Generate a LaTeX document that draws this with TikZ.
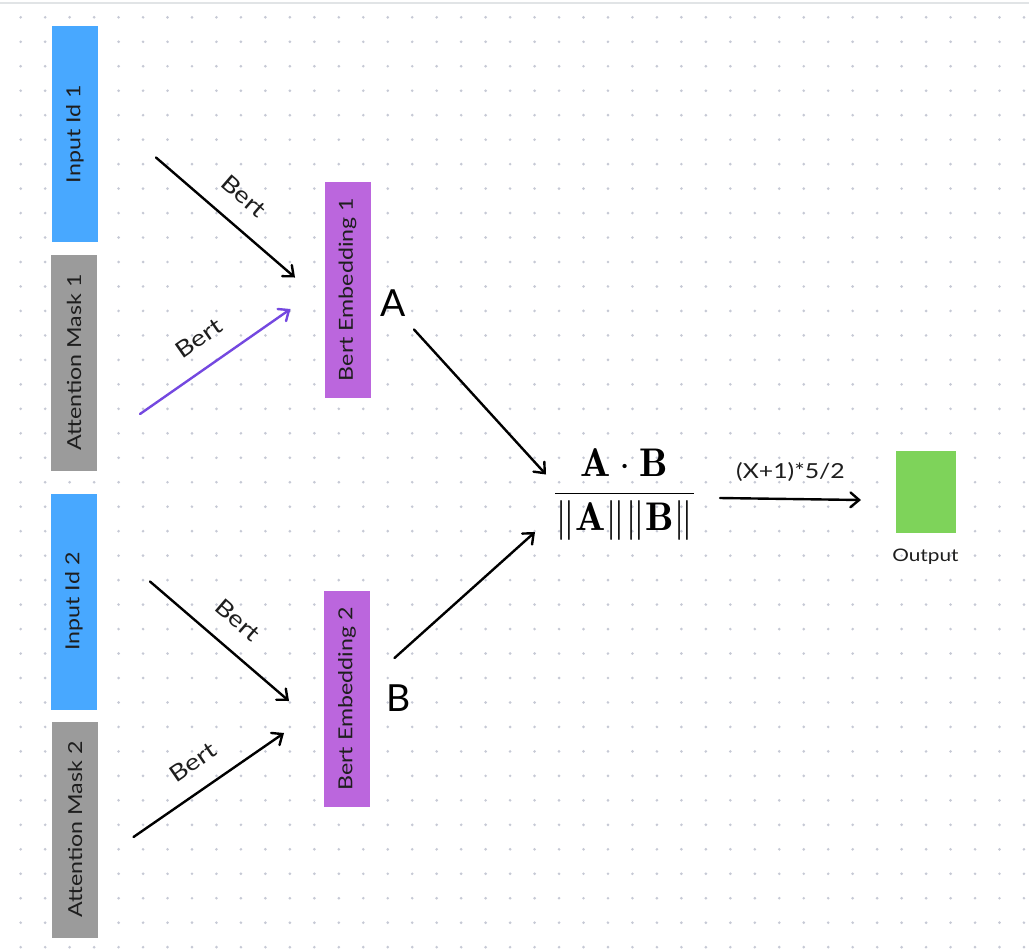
\documentclass[tikz,border=0pt]{standalone}
\usepackage{fix-cm}
\usepackage{amsmath}
\usepackage{fontspec}
\usetikzlibrary{arrows.meta}
\newfontfamily\cvfont[FakeStretch=1.2]{Lato}
\newfontfamily\bigfont{Lato}
\definecolor{inblue}{HTML}{48A8FF}
\definecolor{maskgray}{HTML}{9B9B9B}
\definecolor{embpurple}{HTML}{BB66DD}
\definecolor{outgreen}{HTML}{7ED35A}
\definecolor{violetline}{HTML}{7448E0}
\definecolor{dotc}{HTML}{C6C9D5}
\definecolor{topline}{HTML}{E1E4E6}
\definecolor{ink}{HTML}{1E1E1E}
\begin{document}
\begin{tikzpicture}[x=0.75pt,y=-0.75pt,
  box/.style={rectangle, draw=none, rotate=90, inner sep=0pt,
    minimum width=162pt, minimum height=34.5pt,
    font=\cvfont\fontsize{14.5}{17}\selectfont, text=ink},
  link/.style={line width=1.8pt, line cap=round,
    -{Straight Barb[length=6.5pt,width=11pt,line cap=round]}},
  tag/.style={sloped, above=14pt, inner sep=0pt, text=ink,
    font=\cvfont\fontsize{17}{20}\selectfont},
  letter/.style={inner sep=0pt, text=black,
    font=\bigfont\fontsize{28}{30}\selectfont},
]
\useasboundingbox (0,0) rectangle (1029,951);
\fill[white] (0,0) rectangle (1029,951);
\draw[topline, line width=1.5pt] (0,3) -- (1029,3);

% dotted grid
\foreach \i in {0,...,41}
  \foreach \j in {0,...,38}
    \fill[dotc] (20.7+24.47*\i, 17.3+24.47*\j) circle (1.1pt);

% inputs and embeddings
\node[box, fill=inblue]    (in1)  at (75,134)      {Input Id 1};
\node[box, fill=maskgray]  (am1)  at (74,362.5)    {Attention Mask 1};
\node[box, fill=embpurple] (emb1) at (347.5,289.5) {Bert Embedding 1};
\node[box, fill=inblue]    (in2)  at (74,601.5)    {Input Id 2};
\node[box, fill=maskgray]  (am2)  at (75,829.5)    {Attention Mask 2};
\node[box, fill=embpurple] (emb2) at (347,699)     {Bert Embedding 2};

\node[letter] (lblA) at (393,303) {A};
\node[letter] (lblB) at (399,698) {B};

% cosine similarity, fraction rule on the line y = 493.5
\node[inner sep=0pt, anchor=base, font=\fontsize{30}{36}\selectfont]
  (cos) at (624.5,503.5)
  {$\displaystyle\frac{\mathbf{A}\cdot\mathbf{B}}{\|\mathbf{A}\|\|\mathbf{B}\|}$};

% output
\node[fill=outgreen, inner sep=0pt, minimum width=45pt, minimum height=61.5pt]
  (out) at (926,492) {};
\node[inner sep=0pt, text=ink, font=\cvfont\fontsize{13}{15}\selectfont]
  (outlbl) at (925.5,557) {Output};

% connector ends
\coordinate (in1-o)  at (156,157.5);
\coordinate (emb1-a) at (295,277.5);
\coordinate (am1-o)  at (140,414);
\coordinate (emb1-b) at (290.5,309);
\coordinate (in2-o)  at (150,581.5);
\coordinate (emb2-a) at (289,701);
\coordinate (am2-o)  at (133.5,837);
\coordinate (emb2-b) at (284,733);
\coordinate (A-o)    at (414,329.5);
\coordinate (cos-a)  at (546,474.5);
\coordinate (B-o)    at (394.5,658);
\coordinate (cos-b)  at (535,532);
\coordinate (cos-o)  at (720,498);
\coordinate (out-i)  at (861,500);

\draw[link] (in1-o) -- node[tag] {Bert} (emb1-a);
\draw[link, violetline] (am1-o) -- node[tag] {Bert} (emb1-b);
\draw[link] (in2-o) -- node[tag] {Bert} (emb2-a);
\draw[link] (am2-o) -- node[tag] {Bert} (emb2-b);
\draw[link] (A-o) -- (cos-a);
\draw[link] (B-o) -- (cos-b);
\draw[link] (cos-o) -- node[above=12pt, inner sep=0pt, text=ink,
  font=\cvfont\fontsize{15.5}{18}\selectfont] {(X+1)*5/2} (out-i);
\end{tikzpicture}
\end{document}
